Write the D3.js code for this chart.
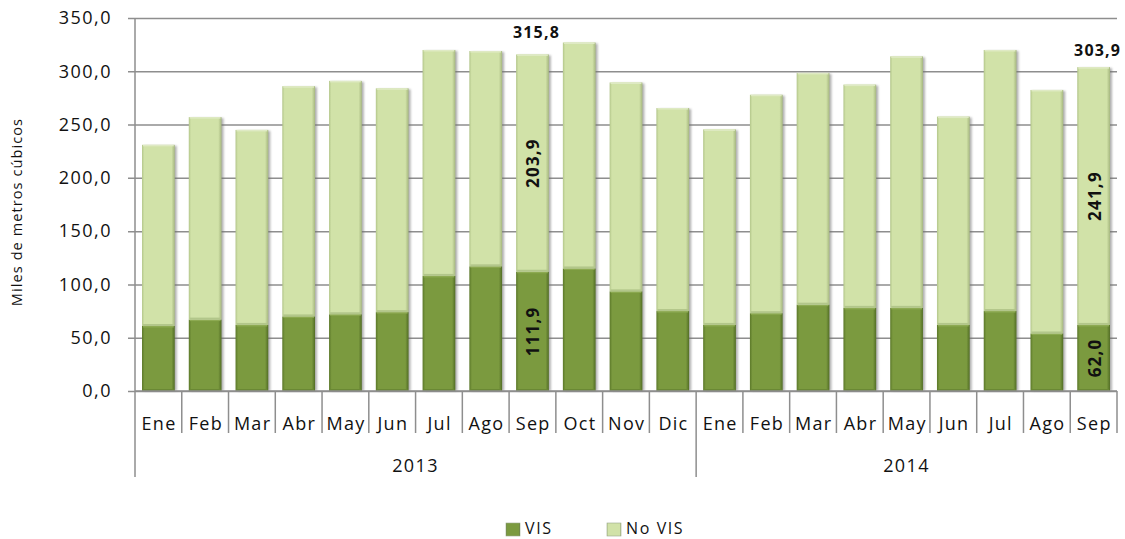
<!DOCTYPE html>
<html>
<head>
<meta charset="utf-8">
<script src="https://cdn.jsdelivr.net/npm/d3@7"></script>
<style>
  html, body { margin: 0; padding: 0; background: #fff; }
  svg { display: block; }
  text { font-family: "Open Sans", "Noto Sans", sans-serif; fill: #111; }
</style>
</head>
<body>
<div id="chart"></div>
<script>
// ---- data ----
const years = ["2013", "2014"];
const months2013 = ["Ene", "Feb", "Mar", "Abr", "May", "Jun", "Jul", "Ago", "Sep", "Oct", "Nov", "Dic"];
const months2014 = ["Ene", "Feb", "Mar", "Abr", "May", "Jun", "Jul", "Ago", "Sep"];
const vis2013   = [61, 67, 62, 70, 72, 74, 108, 117, 111.9, 115, 93.5, 75];
const noVis2013 = [170, 190, 183, 216, 219, 210, 212, 202, 203.9, 212, 196, 190.5];
const vis2014   = [62, 73, 81, 78, 78, 62, 75, 54, 62.0];
const noVis2014 = [183.5, 205, 217.5, 209.5, 236, 195.5, 245, 228.5, 241.9];
const seriesNames = ["VIS", "No VIS"];
const yTicks = [0, 50, 100, 150, 200, 250, 300, 350];
const yTitle = "Miles de metros cúbicos";
// bars carrying data labels (year, month)
const labelled = [["2013", "Sep"], ["2014", "Sep"]];

// ---- build table ----
const rows = [];
months2013.forEach((m, i) => rows.push({ key: "2013-" + m, year: "2013", month: m, vis: vis2013[i], noVis: noVis2013[i] }));
months2014.forEach((m, i) => rows.push({ key: "2014-" + m, year: "2014", month: m, vis: vis2014[i], noVis: noVis2014[i] }));

const W = 1125, H = 539;
const plot = { left: 135, right: 1117, top: 18, bottom: 391 };
const locale = d3.formatLocale({ decimal: ",", thousands: ".", grouping: [3], currency: ["", ""] });
const fmt = locale.format(".1f");

const svg = d3.select("#chart").append("svg").attr("width", W).attr("height", H);
const defs = svg.append("defs");

function hGrad(id, stops) {
  const g = defs.append("linearGradient").attr("id", id).attr("x1", "0").attr("x2", "1").attr("y1", "0").attr("y2", "0");
  stops.forEach(s => g.append("stop").attr("offset", s[0]).attr("stop-color", s[1]));
}
hGrad("gLight", [["0", "#b3c68a"], ["0.07", "#d1e2a8"], ["0.9", "#d1e2a8"], ["1", "#a6b77f"]]);
hGrad("gDark", [["0", "#5b7829"], ["0.08", "#7b9a3f"], ["0.9", "#7b9a3f"], ["1", "#526d25"]]);
const blur = defs.append("filter").attr("id", "shadow").attr("x", "-20%").attr("y", "-5%").attr("width", "140%").attr("height", "110%");
blur.append("feGaussianBlur").attr("stdDeviation", 1.2);

const x = d3.scaleBand().domain(rows.map(d => d.key)).range([plot.left, plot.right]).paddingInner(0.3).paddingOuter(0.15);
const y = d3.scaleLinear().domain([0, 350]).range([plot.bottom, plot.top]);
const step = x.step();
const boundary = key => x(key) - x.paddingOuter() * step;

const gridColor = "#8e8e8e";

// gridlines + left ticks
const yAxis = d3.axisLeft(y).tickValues(yTicks).tickSize(plot.right - plot.left + 7).tickFormat(d => fmt(d)).tickPadding(16);
const ga = svg.append("g").attr("transform", `translate(${plot.right},0)`).call(yAxis);
ga.select(".domain").remove();
ga.selectAll(".tick line").attr("stroke", gridColor).attr("stroke-width", 1.5);
ga.selectAll(".tick text").attr("font-size", 18).attr("letter-spacing", 1.5).attr("fill", "#111")
  .attr("font-family", "'Open Sans', sans-serif");

// y-axis title
svg.append("text").attr("transform", `translate(22,${212}) rotate(-90)`)
  .attr("text-anchor", "middle").attr("font-size", 14.5).attr("letter-spacing", 1.1).text(yTitle);

// stacked bars
const stack = d3.stack().keys(["vis", "noVis"]);
const layers = stack(rows);
const bw = x.bandwidth();

// shadows
svg.append("g").selectAll("rect").data(rows).join("rect")
  .attr("x", d => x(d.key) + 2).attr("y", d => y(d.vis + d.noVis) + 1)
  .attr("width", bw).attr("height", d => y(0) - y(d.vis + d.noVis) - 1)
  .attr("fill", "#6f6f6f").attr("opacity", 0.55).attr("filter", "url(#shadow)");

const fills = ["url(#gDark)", "url(#gLight)"];
const topBand = ["#8daa52", "#dfeac4"];
const bottomBand = ["#6a8834", "#b2c68a"];
layers.forEach((layer, li) => {
  const g = svg.append("g");
  g.selectAll("rect.seg").data(layer).join("rect").attr("class", "seg")
    .attr("x", d => x(d.data.key)).attr("y", d => y(d[1]))
    .attr("width", bw).attr("height", d => y(d[0]) - y(d[1]))
    .attr("fill", fills[li]);
  g.selectAll("rect.tb").data(layer).join("rect").attr("class", "tb")
    .attr("x", d => x(d.data.key) + 1).attr("y", d => y(d[1]))
    .attr("width", bw - 2).attr("height", 1.5).attr("fill", topBand[li]);
  g.selectAll("rect.bb").data(layer).join("rect").attr("class", "bb")
    .attr("x", d => x(d.data.key) + 1).attr("y", d => y(d[0]) - 2)
    .attr("width", bw - 2).attr("height", 2).attr("fill", bottomBand[li]);
});

// axis baseline
svg.append("line").attr("x1", plot.left).attr("x2", plot.right).attr("y1", plot.bottom).attr("y2", plot.bottom)
  .attr("stroke", gridColor).attr("stroke-width", 1.5);
// left axis line, extended through category levels
svg.append("line").attr("x1", plot.left).attr("x2", plot.left).attr("y1", plot.top).attr("y2", 477)
  .attr("stroke", gridColor).attr("stroke-width", 1.5);

// month separators
rows.forEach((d, i) => {
  if (i === 0) return;
  const bx = boundary(d.key);
  const yearStart = d.year !== rows[i - 1].year;
  svg.append("line").attr("x1", bx).attr("x2", bx).attr("y1", plot.bottom).attr("y2", yearStart ? 477 : 433)
    .attr("stroke", gridColor).attr("stroke-width", 1.5);
});
svg.append("line").attr("x1", plot.right).attr("x2", plot.right).attr("y1", plot.bottom).attr("y2", 433)
  .attr("stroke", gridColor).attr("stroke-width", 1.5);

// month labels
svg.append("g").selectAll("text").data(rows).join("text")
  .attr("x", d => x(d.key) + bw / 2 + 0.7).attr("y", 430)
  .attr("text-anchor", "middle").attr("font-size", 18).attr("letter-spacing", 1.3)
  .text(d => d.month);

// year labels
years.forEach(yr => {
  const ks = rows.filter(r => r.year === yr);
  const x0 = boundary(ks[0].key), x1 = boundary(ks[ks.length - 1].key) + step;
  svg.append("text").attr("x", (x0 + x1) / 2).attr("y", 472).attr("text-anchor", "middle")
    .attr("font-size", 18).attr("letter-spacing", 1.4).text(yr);
});

// data labels
const totalDy = { "2013": -16, "2014": -11 };
labelled.forEach(([yr, m]) => {
  const d = rows.find(r => r.year === yr && r.month === m);
  const cx = x(d.key) + bw / 2 + 1;
  const total = d.vis + d.noVis;
  svg.append("text").attr("x", cx + 3).attr("y", y(total) + totalDy[yr])
    .attr("text-anchor", "middle").attr("font-size", 16).attr("font-weight", "bold").attr("letter-spacing", 1.2)
    .text(fmt(total));
  [[0, d.vis], [d.vis, total]].forEach(([a, b], k) => {
    const cy = (y(a) + y(b)) / 2;
    svg.append("text").attr("transform", `translate(${cx + 6},${cy}) rotate(-90)`)
      .attr("text-anchor", "middle").attr("font-size", 17).attr("font-weight", "bold").attr("letter-spacing", 1.2)
      .text(fmt(k === 0 ? d.vis : d.noVis));
  });
});

// legend
const legend = [
  { name: seriesNames[0], fill: "url(#gDark)", x: 506 },
  { name: seriesNames[1], fill: "url(#gLight)", x: 607 }
];
legend.forEach(l => {
  svg.append("rect").attr("x", l.x).attr("y", 523).attr("width", 14).attr("height", 13).attr("fill", l.fill)
    .attr("stroke", "#9aa98a").attr("stroke-width", 0.6);
  svg.append("text").attr("x", l.x + 19).attr("y", 534).attr("font-size", 16).attr("letter-spacing", 1.6).text(l.name);
});
</script>
</body>
</html>
